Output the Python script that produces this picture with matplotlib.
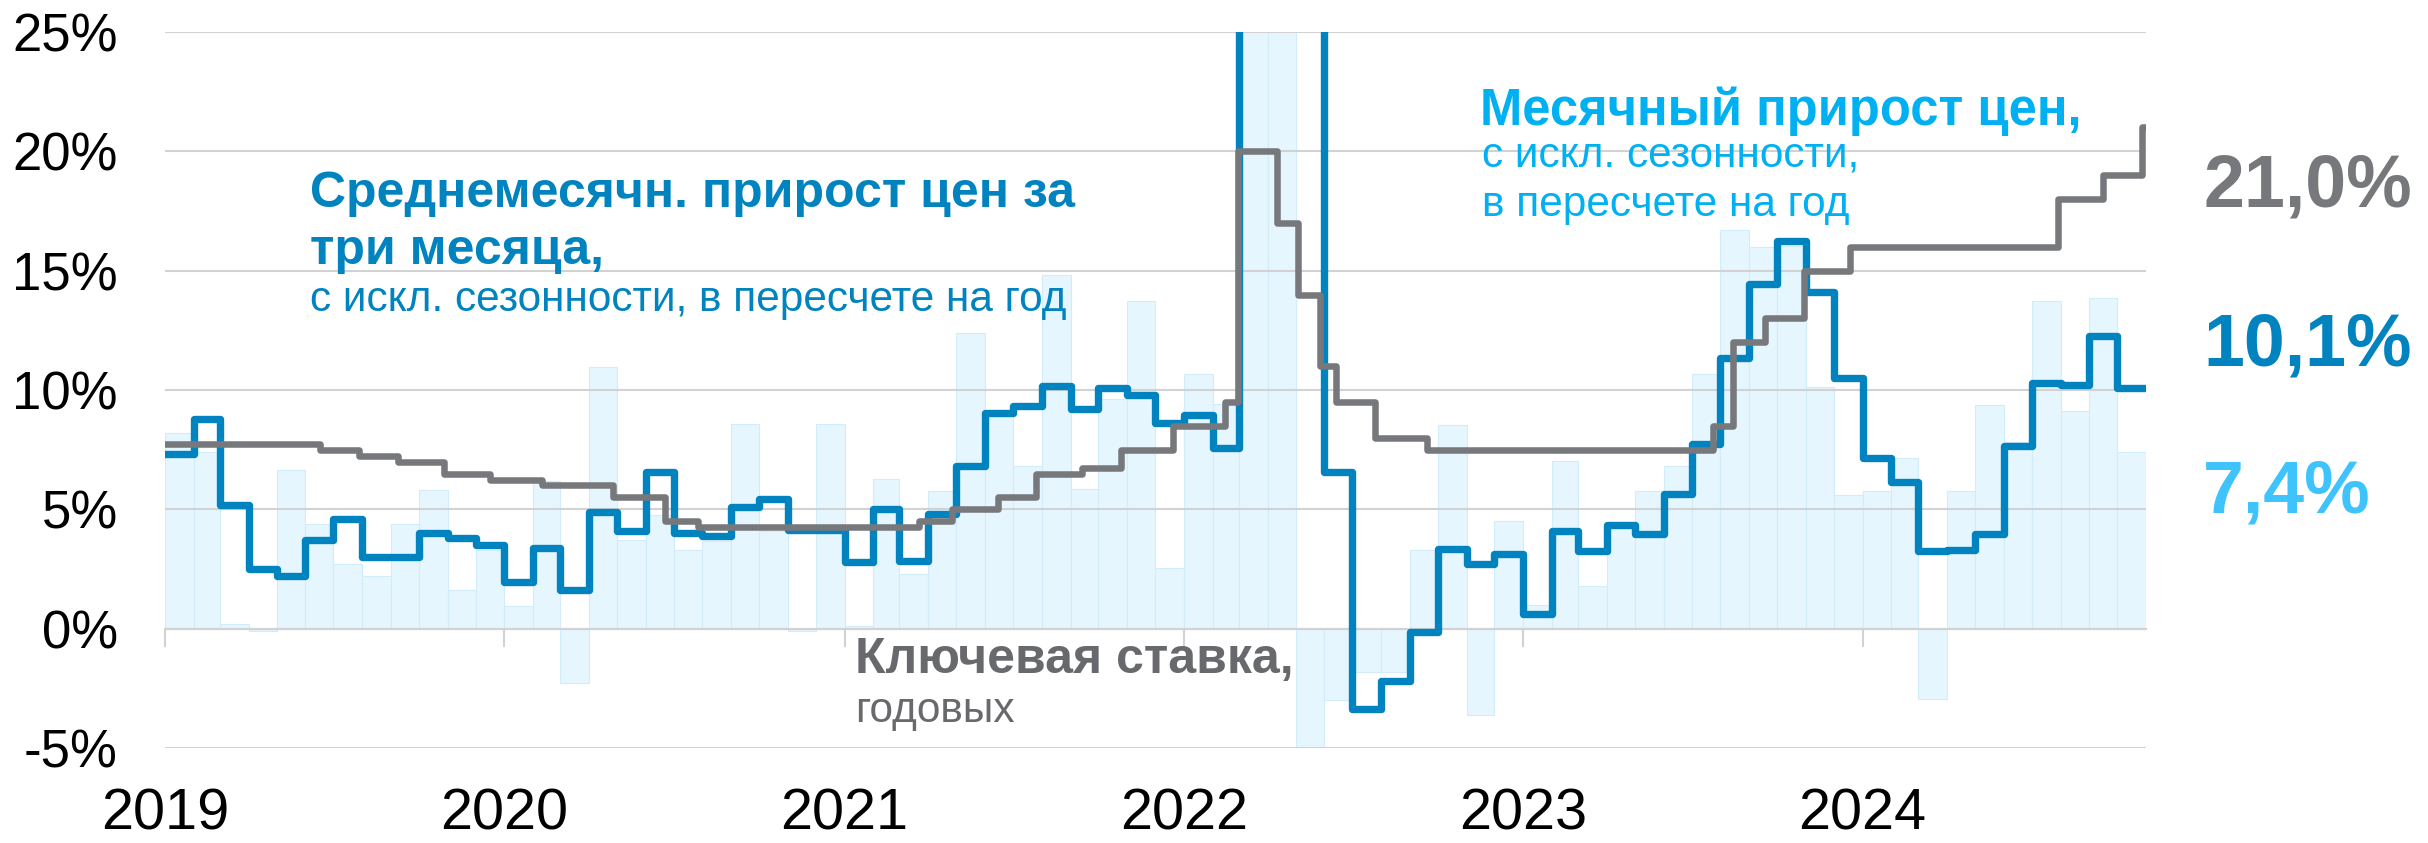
import datetime as dt
import matplotlib
matplotlib.use('Agg')
import matplotlib.pyplot as plt
import matplotlib.dates as mdates

plt.rcParams['font.family'] = ['Liberation Sans', 'DejaVu Sans']

# monthly price growth, s.a., annualized, % (Jan 2019 - Oct 2024)
monthly = [8.2, 7.4, 0.2, -0.1, 6.65, 4.4, 2.7, 2.2, 4.4, 5.8, 1.6, 3.3,
           0.94, 6.2, -2.26, 10.96, 3.7, 4.78, 3.28, 3.67, 8.57, 4.1, -0.1, 8.57,
           0.1, 6.27, 2.28, 5.76, 12.37, 9.0, 6.8, 14.8, 5.86, 9.64, 13.73, 2.56,
           10.66, 9.4, 140.0, 28.0, -5.3, -3.0, -1.8, -1.8, 3.3, 8.55, -3.6, 4.5,
           1.0, 7.04, 1.79, 4.22, 5.76, 6.8, 10.66, 16.7, 16.0, 16.05, 10.13, 5.59,
           5.76, 7.14, -2.94, 5.76, 9.36, 7.83, 13.73, 9.1, 13.86, 7.42]

# 3-month average, s.a., annualized, %
avg3m = [7.3, 8.8, 5.2, 2.5, 2.2, 3.7, 4.6, 3.0, 3.0, 4.0, 3.8, 3.5,
         1.95, 3.4, 1.6, 4.9, 4.1, 6.55, 4.0, 3.9, 5.1, 5.45, 4.15, 4.15,
         2.8, 5.0, 2.85, 4.8, 6.8, 9.05, 9.35, 10.15, 9.2, 10.1, 9.8, 8.6,
         8.95, 7.55, 53.0, 59.0, 54.0, 6.55, -3.37, -2.2, -0.13, 3.35, 2.7, 3.13,
         0.6, 4.1, 3.25, 4.35, 3.95, 5.65, 7.72, 11.35, 14.43, 16.25, 14.1, 10.5,
         7.15, 6.16, 3.25, 3.3, 3.95, 7.65, 10.28, 10.23, 12.26, 10.1]

# key rate decisions
rate_dates = ['2019-01-01', '2019-06-17', '2019-07-29', '2019-09-09', '2019-10-28', '2019-12-16',
              '2020-02-10', '2020-04-27', '2020-06-22', '2020-07-27', '2021-03-22', '2021-04-26',
              '2021-06-15', '2021-07-26', '2021-09-13', '2021-10-25', '2021-12-20', '2022-02-14',
              '2022-02-28', '2022-04-11', '2022-05-04', '2022-05-27', '2022-06-14', '2022-07-25',
              '2022-09-19', '2023-07-24', '2023-08-15', '2023-09-18', '2023-10-30', '2023-12-18',
              '2024-07-29', '2024-09-16', '2024-10-28', '2024-11-01']
rate_vals = [7.75, 7.5, 7.25, 7.0, 6.5, 6.25,
             6.0, 5.5, 4.5, 4.25, 4.5, 5.0,
             5.5, 6.5, 6.75, 7.5, 8.5, 9.5,
             20.0, 17.0, 14.0, 11.0, 9.5, 8.0,
             7.5, 8.5, 12.0, 13.0, 15.0, 16.0,
             18.0, 19.0, 21.0, 21.0]

years = [2019, 2020, 2021, 2022, 2023, 2024]
yticks = [-5, 0, 5, 10, 15, 20, 25]

BLUE = '#0083be'
LBLUE = '#00b0f0'
GRAY = '#77787b'

# month starts + end of last month
starts = [dt.date(2019 + i // 12, i % 12 + 1, 1) for i in range(len(monthly) + 1)]
xs = mdates.date2num(starts)
widths = xs[1:] - xs[:-1]

fig = plt.figure(figsize=(24.28, 8.43), dpi=100)
ax = fig.add_axes([0.068, 0.1127, 0.8159, 0.8493])

ax.bar(xs[:-1], monthly, width=widths, align='edge', color='#e5f6fe',
       edgecolor='#d3ecf9', linewidth=0.8, zorder=1)
ax.step(xs, avg3m + [avg3m[-1]], where='post', color=BLUE, lw=5.3, zorder=3)
rx = mdates.date2num([dt.date.fromisoformat(d) for d in rate_dates])
ax.step(rx, rate_vals, where='post', color=GRAY, lw=4.7, zorder=4)

ax.set_xlim(xs[0], xs[-1])
ax.set_ylim(-5, 25)
ax.set_yticks(yticks)
ax.set_yticklabels([f'{v}%' for v in yticks], fontsize=38)
ax.tick_params(axis='y', length=0, pad=34)
ax.yaxis.grid(True, color='#d2d2d2', lw=1.5)
ax.set_axisbelow('line')

for s in ['top', 'right', 'left']:
    ax.spines[s].set_visible(False)
ax.spines['bottom'].set_position(('data', 0))
ax.spines['bottom'].set_color('#d2d2d2')
ax.spines['bottom'].set_linewidth(1.5)
ax.set_xticks(mdates.date2num([dt.date(y, 1, 1) for y in years]))
ax.set_xticklabels([str(y) for y in years], fontsize=41.5)
ax.tick_params(axis='x', length=13, width=1.5, color='#d2d2d2', pad=101)

# annotations
H = 843.0
def ft(x, y, s, **kw):
    fig.text(x / 2428.0, 1 - y / H, s, va='baseline', ha='left', **kw)

ft(310, 207, 'Среднемесячн. прирост цен за', color=BLUE, fontsize=36, fontweight='bold')
ft(310, 264, 'три месяца,', color=BLUE, fontsize=36, fontweight='bold')
ft(310, 311, 'с искл. сезонности, в пересчете на год', color=BLUE, fontsize=30.5)

ft(1480, 125, 'Месячный прирост цен,', color=LBLUE, fontsize=36.5, fontweight='bold')
ft(1482, 167, 'с искл. сезонности,', color=LBLUE, fontsize=30.5)
ft(1482, 216, 'в пересчете на год', color=LBLUE, fontsize=30.5)

ft(855, 673, 'Ключевая ставка,', color='#68696c', fontsize=36, fontweight='bold')
ft(855, 722, 'годовых', color='#68696c', fontsize=30.5)

ft(2203, 207, '21,0%', color=GRAY, fontsize=53, fontweight='bold')
ft(2203, 365, '10,1%', color=BLUE, fontsize=53, fontweight='bold')
ft(2203, 512, '7,4%', color='#3fc3fc', fontsize=53, fontweight='bold')

fig.savefig('out.png', dpi=100)
